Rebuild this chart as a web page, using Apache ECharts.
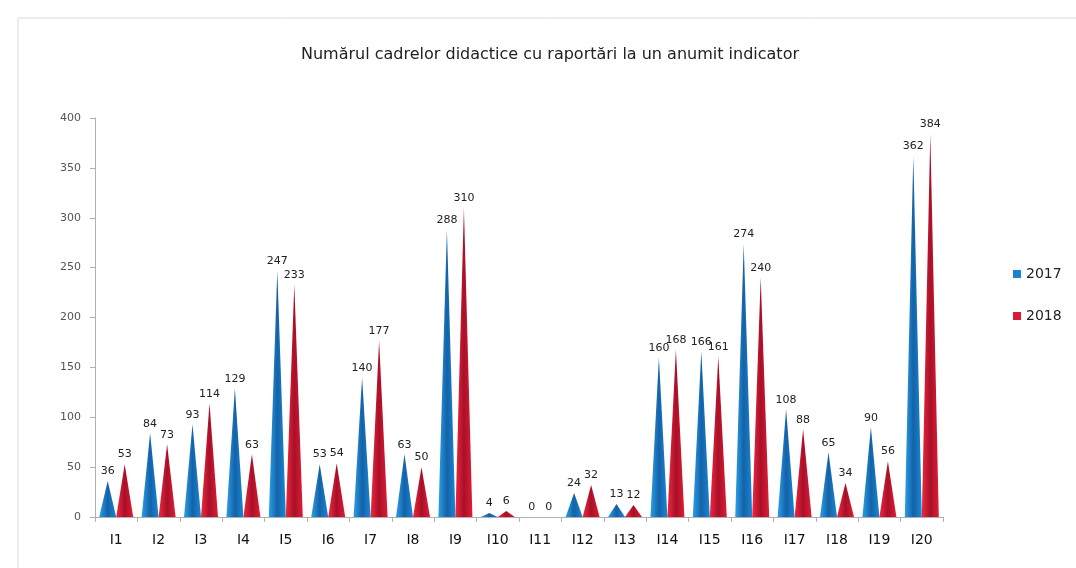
<!DOCTYPE html>
<html><head><meta charset="utf-8">
<script src="https://cdn.jsdelivr.net/npm/echarts@6/dist/echarts.min.js"></script>
<style>html,body{margin:0;padding:0;background:#fff}#c{width:1076px;height:568px}</style>
</head><body><div id="c"></div>
<script>
const categories = ['I1','I2','I3','I4','I5','I6','I7','I8','I9','I10','I11','I12','I13','I14','I15','I16','I17','I18','I19','I20'];
const values2017 = [36,84,93,129,247,53,140,63,288,4,0,24,13,160,166,274,108,65,90,362];
const values2018 = [53,73,114,63,233,54,177,50,310,6,0,32,12,168,161,240,88,34,56,384];
const yTicks = [0,50,100,150,200,250,300,350,400];

function grad(a, b, c){
  return new echarts.graphic.LinearGradient(0,0,1,0,[
    {offset:0,color:a},{offset:0.5,color:b},{offset:1,color:c}]);
}
const chart = echarts.init(document.getElementById('c'));
const lbl = {show:true, position:'top', distance:4, color:'#222', fontSize:11, fontFamily:'DejaVu Sans'};
chart.setOption({
  animation:false,
  title:{text:'Numărul cadrelor didactice cu raportări la un anumit indicator', left:545, textAlign:'center', top:42,
    textStyle:{fontSize:16, fontWeight:'normal', color:'#222', fontFamily:'DejaVu Sans'}},
  graphic:[{type:'rect', shape:{x:18,y:18,width:1060,height:560}, style:{fill:'none', stroke:'#d9d9d9', lineWidth:1}}],
  legend:{orient:'vertical', left:1008, top:262, itemWidth:8, itemHeight:8, itemGap:28, icon:'rect',
    textStyle:{fontSize:14, color:'#222', fontFamily:'DejaVu Sans'}, data:[
      {name:'2017', itemStyle:{color:'#1a82d0'}},{name:'2018', itemStyle:{color:'#dc1a35'}}]},
  grid:{left:95, right:133, top:118, bottom:51},
  xAxis:{type:'category', data:categories,
    axisLine:{lineStyle:{color:'#b0b0b0'}}, axisTick:{show:true, lineStyle:{color:'#b0b0b0'}},
    axisLabel:{color:'#111', fontSize:14, fontFamily:'DejaVu Sans', margin:16}},
  yAxis:{type:'value', min:0, max:400, interval:50,
    axisLine:{show:true, lineStyle:{color:'#b0b0b0'}}, axisTick:{show:true, lineStyle:{color:'#b0b0b0'}},
    splitLine:{show:false},
    axisLabel:{color:'#555', fontSize:11, fontFamily:'DejaVu Sans', margin:14,
      formatter:v=>yTicks.includes(v)?String(v):''}},
  series:[
    {name:'2017', type:'pictorialBar', symbol:'triangle', barWidth:17, barGap:'0%', barCategoryGap:'40%',
     itemStyle:{color:grad('#2aa0e8','#1462a8','#1a86d4')}, data:values2017, label:lbl, z:3},
    {name:'2018', type:'pictorialBar', symbol:'triangle', barWidth:17, barGap:'0%',
     itemStyle:{color:grad('#f0283f','#a81028','#e01c36')}, data:values2018, label:lbl, z:3}
  ]
});
</script></body></html>
